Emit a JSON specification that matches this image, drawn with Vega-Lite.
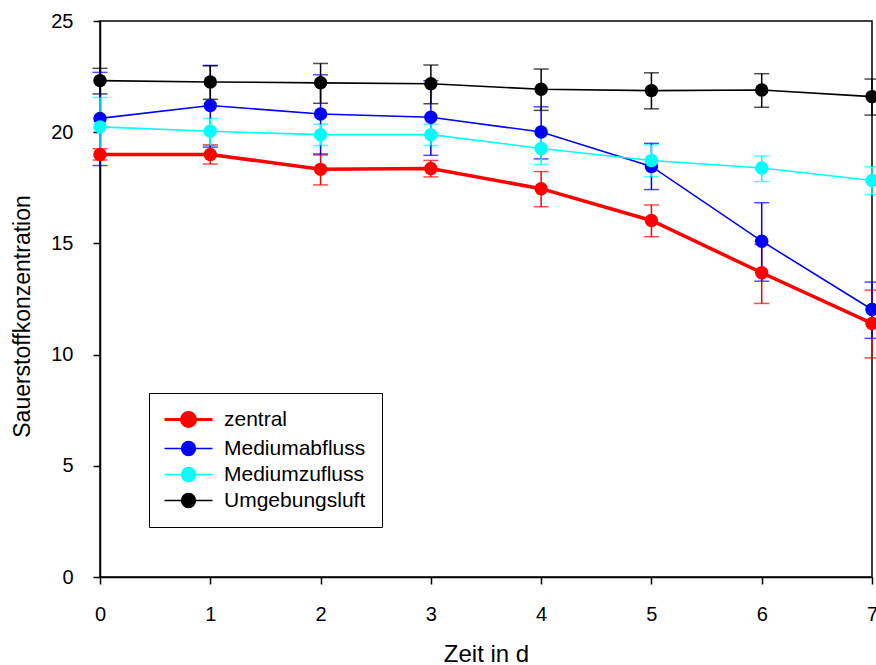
{
  "$schema": "https://vega.github.io/schema/vega-lite/v6.json",
  "width": 772,
  "height": 556,
  "autosize": "none",
  "padding": {"left": 100, "top": 21, "right": 4, "bottom": 88},
  "background": "white",
  "config": {
    "view": {"stroke": "black", "strokeWidth": 1.5},
    "font": "Liberation Sans",
    "axis": {
      "grid": false,
      "domainColor": "black",
      "domainWidth": 1.5,
      "tickColor": "black",
      "tickWidth": 1.5,
      "tickSize": 7,
      "labelColor": "black",
      "labelFont": "Liberation Sans",
      "labelFontSize": 20,
      "titleColor": "black",
      "titleFont": "Liberation Sans",
      "titleFontSize": 24,
      "titleFontWeight": "normal"
    }
  },
  "data": {
    "values": [
      {"day": 0, "series": "zentral", "value": 19.0, "lo": 18.75, "hi": 19.25},
      {"day": 1, "series": "zentral", "value": 19.0, "lo": 18.57, "hi": 19.43},
      {"day": 2, "series": "zentral", "value": 18.33, "lo": 17.63, "hi": 19.03},
      {"day": 3, "series": "zentral", "value": 18.37, "lo": 17.99, "hi": 18.73},
      {"day": 4, "series": "zentral", "value": 17.46, "lo": 16.65, "hi": 18.23},
      {"day": 5, "series": "zentral", "value": 16.03, "lo": 15.3, "hi": 16.73},
      {"day": 6, "series": "zentral", "value": 13.68, "lo": 12.3, "hi": 14.95},
      {"day": 7, "series": "zentral", "value": 11.4, "lo": 9.85, "hi": 12.9},
      {"day": 0, "series": "Mediumabfluss", "value": 20.62, "lo": 18.5, "hi": 22.69},
      {"day": 1, "series": "Mediumabfluss", "value": 21.2, "lo": 19.33, "hi": 23.0},
      {"day": 2, "series": "Mediumabfluss", "value": 20.82, "lo": 18.98, "hi": 22.58},
      {"day": 3, "series": "Mediumabfluss", "value": 20.67, "lo": 18.96, "hi": 22.31},
      {"day": 4, "series": "Mediumabfluss", "value": 20.01, "lo": 18.8, "hi": 21.14},
      {"day": 5, "series": "Mediumabfluss", "value": 18.46, "lo": 17.42, "hi": 19.5},
      {"day": 6, "series": "Mediumabfluss", "value": 15.1, "lo": 13.3, "hi": 16.83},
      {"day": 7, "series": "Mediumabfluss", "value": 12.03, "lo": 10.73, "hi": 13.26},
      {"day": 0, "series": "Mediumzufluss", "value": 20.24, "lo": 18.9, "hi": 21.56},
      {"day": 1, "series": "Mediumzufluss", "value": 20.04, "lo": 19.4, "hi": 20.62},
      {"day": 2, "series": "Mediumzufluss", "value": 19.89, "lo": 19.4, "hi": 20.36},
      {"day": 3, "series": "Mediumzufluss", "value": 19.89, "lo": 19.4, "hi": 20.36},
      {"day": 4, "series": "Mediumzufluss", "value": 19.27, "lo": 18.55, "hi": 19.95},
      {"day": 5, "series": "Mediumzufluss", "value": 18.73, "lo": 18.0, "hi": 19.43},
      {"day": 6, "series": "Mediumzufluss", "value": 18.39, "lo": 17.78, "hi": 18.93},
      {"day": 7, "series": "Mediumzufluss", "value": 17.83, "lo": 17.2, "hi": 18.44},
      {"day": 0, "series": "Umgebungsluft", "value": 22.32, "lo": 21.72, "hi": 22.87},
      {"day": 1, "series": "Umgebungsluft", "value": 22.26, "lo": 21.48, "hi": 22.99},
      {"day": 2, "series": "Umgebungsluft", "value": 22.22, "lo": 21.3, "hi": 23.09},
      {"day": 3, "series": "Umgebungsluft", "value": 22.18, "lo": 21.28, "hi": 23.02},
      {"day": 4, "series": "Umgebungsluft", "value": 21.93, "lo": 20.98, "hi": 22.84},
      {"day": 5, "series": "Umgebungsluft", "value": 21.87, "lo": 21.05, "hi": 22.67},
      {"day": 6, "series": "Umgebungsluft", "value": 21.9, "lo": 21.12, "hi": 22.63},
      {"day": 7, "series": "Umgebungsluft", "value": 21.6, "lo": 20.77, "hi": 22.39}
    ]
  },
  "encoding": {
    "x": {
      "field": "day",
      "type": "quantitative",
      "title": "Zeit in d",
      "scale": {"domain": [0, 7], "nice": false, "zero": false},
      "axis": {"values": [0, 1, 2, 3, 4, 5, 6, 7], "format": "d", "labelPadding": 20, "titlePadding": 18, "titleFontSize": 24, "labelFlush": false}
    },
    "color": {
      "field": "series",
      "type": "nominal",
      "scale": {
        "domain": ["zentral", "Mediumabfluss", "Mediumzufluss", "Umgebungsluft"],
        "range": ["#ff0000", "#0000ff", "#00ffff", "#000000"]
      },
      "legend": {
        "title": null,
        "orient": "none",
        "direction": "vertical",
        "legendX": 49,
        "legendY": 372,
        "padding": 16,
        "strokeColor": "black",
        "fillColor": "white",
        "labelFont": "Liberation Sans",
        "labelFontSize": 21,
        "labelColor": "black",
        "symbolType": "M-3.2,0L3.2,0M0.92,0A0.92,0.92,0,1,1,-0.92,0A0.92,0.92,0,1,1,0.92,0Z",
        "symbolSize": 225,
        "symbolStrokeWidth": 1.6,
        "symbolOffset": 13,
        "labelOffset": 25,
        "rowPadding": 4,
        "encode": {
          "symbols": {
            "update": {
              "fill": {"scale": "color", "field": "value"},
              "stroke": {"scale": "color", "field": "value"},
              "fillOpacity": {"value": 1},
              "strokeOpacity": {"value": 1},
              "opacity": {"value": 1},
              "strokeWidth": {"signal": "datum.value === 'zentral' ? 3.2 : 1.6"}
            }
          }
        }
      }
    }
  },
  "layer": [
    {
      "mark": {"type": "errorbar", "ticks": {"size": 15, "thickness": 1.5}, "rule": {"strokeWidth": 1.5}},
      "encoding": {
        "y": {"field": "lo", "type": "quantitative", "title": "Sauerstoffkonzentration", "scale": {"domain": [0, 25], "nice": false}},
        "y2": {"field": "hi"}
      }
    },
    {
      "mark": {"type": "line"},
      "encoding": {
        "y": {
          "field": "value",
          "type": "quantitative",
          "title": "Sauerstoffkonzentration",
          "scale": {"domain": [0, 25], "nice": false},
          "axis": {"values": [0, 5, 10, 15, 20, 25], "labelPadding": 20, "titlePadding": 16, "titleFontSize": 23, "titleY": 295}
        },
        "strokeWidth": {
          "condition": {"test": "datum.series === 'zentral'", "value": 3.5},
          "value": 1.6
        }
      }
    },
    {
      "mark": {"type": "point", "filled": true, "size": 180, "opacity": 1},
      "encoding": {
        "y": {"field": "value", "type": "quantitative", "title": "Sauerstoffkonzentration", "scale": {"domain": [0, 25], "nice": false}}
      }
    }
  ]
}
